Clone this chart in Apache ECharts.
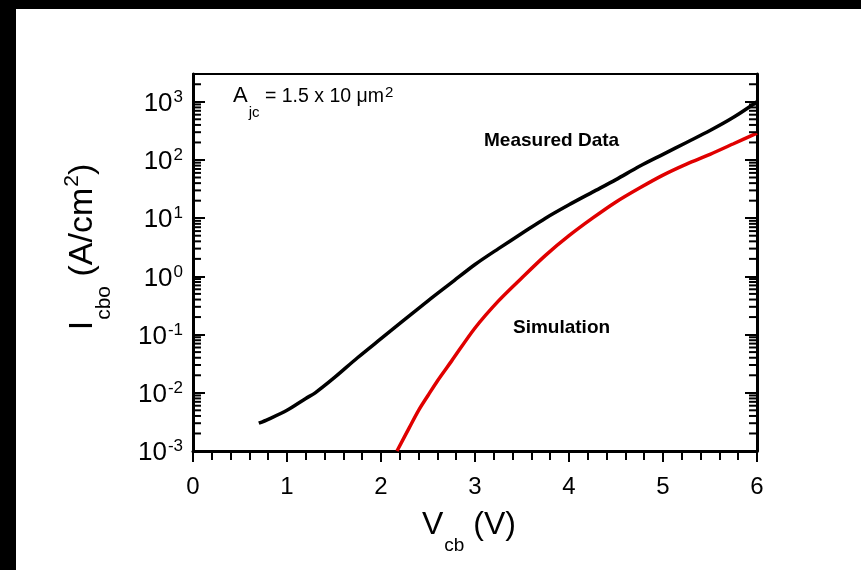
<!DOCTYPE html>
<html>
<head>
<meta charset="utf-8">
<script src="https://cdn.jsdelivr.net/npm/echarts@6/dist/echarts.min.js"></script>
<style>
html,body{margin:0;padding:0;background:#fff;}
#chart{width:861px;height:570px;}
</style>
</head>
<body>
<div id="chart"></div>
<script>
// ---- data ----
const measuredV = [0.7, 0.8, 1.0, 1.2, 1.3, 1.5, 1.75, 2.0, 2.25, 2.5, 2.75, 3.0, 3.25, 3.5, 3.75, 4.0, 4.25, 4.5, 4.75, 5.0, 5.25, 5.5, 5.75, 6.0];
const measuredI = [3e-3, 3.5e-3, 5e-3, 8e-3, 1e-2, 1.8e-2, 4e-2, 8.5e-2, 0.18, 0.38, 0.78, 1.6, 3, 5.5, 10, 17, 28, 46, 78, 125, 200, 320, 540, 1000];
const simV = [2.17, 2.3, 2.4, 2.5, 2.6, 2.75, 3.0, 3.25, 3.5, 3.75, 4.0, 4.25, 4.5, 4.75, 5.0, 5.25, 5.5, 5.75, 6.0];
const simI = [1e-3, 2.5e-3, 5e-3, 9e-3, 1.6e-2, 3.5e-2, 0.13, 0.38, 0.95, 2.3, 5, 10, 19, 33, 55, 85, 125, 190, 290];
const xTicks = [0, 1, 2, 3, 4, 5, 6];
const yMin = 1e-3, yMax = 3000;
const yMinorMultipliers = [2, 3, 4, 5, 6, 7, 8, 9];
const yDecades = [-3, -2, -1, 0, 1, 2, 3];

const minorTickValues = [];
yDecades.forEach(d => yMinorMultipliers.forEach(m => {
  const v = m * Math.pow(10, d);
  if (v < yMax) minorTickValues.push(v);
}));

const FONT = 'Liberation Sans, Arial, sans-serif';
const chart = echarts.init(document.getElementById('chart'), null, {renderer: 'canvas'});

function pairs(xs, ys){ return xs.map((x, i) => [x, ys[i]]); }

const option = {
  animation: false,
  backgroundColor: '#fff',
  grid: {left: 193, right: 104, top: 74, bottom: 119},
  graphic: [
    {type: 'rect', left: 0, top: 0, shape: {width: 861, height: 9}, style: {fill: '#000'}, z: 100},
    {type: 'rect', left: 0, top: 0, shape: {width: 16, height: 570}, style: {fill: '#000'}, z: 100},
    {type: 'text', x: 233, y: 85, z: 50, style: {
      text: '{a|A}{sub|jc}{r| = 1.5 x 10 \u03bcm}{sup|2}',
      verticalAlign: 'top', align: 'left',
      rich: {
        a: {fontSize: 22, lineHeight: 22, fontFamily: FONT, fill: '#000', verticalAlign: 'top'},
        r: {fontSize: 19.5, lineHeight: 20, fontFamily: FONT, fill: '#000', verticalAlign: 'top', padding: [2, 0, 0, 0]},
        sub: {fontSize: 15, lineHeight: 15, fontFamily: FONT, fill: '#000', verticalAlign: 'top', padding: [20, 0, 0, 1]},
        sup: {fontSize: 15, lineHeight: 15, fontFamily: FONT, fill: '#000', verticalAlign: 'top', padding: [0, 0, 0, 1]}
      }
    }},
    {type: 'text', left: 484, top: 131, z: 50, style: {text: 'Measured Data', font: 'bold 19px ' + FONT, fill: '#000'}},
    {type: 'text', left: 513, top: 318, z: 50, style: {text: 'Simulation', font: 'bold 19px ' + FONT, fill: '#000'}},
    // y-axis title, rotated to read bottom-to-top
    {type: 'text', x: 60, y: 247, rotation: Math.PI / 2, z: 50, style: {
      text: '{i|I}{sub|cbo}{i| (A/cm}{sup|2}{i|)}',
      align: 'center', verticalAlign: 'top',
      rich: {
        i: {fontSize: 34, lineHeight: 34, fontFamily: FONT, fill: '#000', verticalAlign: 'top', padding: [6, 0, 0, 0]},
        sub: {fontSize: 21, lineHeight: 21, fontFamily: FONT, fill: '#000', verticalAlign: 'top', padding: [34, 0, 0, 1]},
        sup: {fontSize: 21, lineHeight: 21, fontFamily: FONT, fill: '#000', verticalAlign: 'top', padding: [2, 0, 0, 1]}
      }
    }}
  ],
  xAxis: [{
    type: 'value', min: 0, max: 6, interval: 1, position: 'bottom',
    name: '{v|V}{sub|cb}{v| (V)}', nameLocation: 'middle', nameGap: 58,
    nameTextStyle: {
      padding: [0, 12, 0, 0],
      rich: {
        v: {fontSize: 32, lineHeight: 32, fontFamily: FONT, color: '#000', verticalAlign: 'top'},
        sub: {fontSize: 19, lineHeight: 19, fontFamily: FONT, color: '#000', verticalAlign: 'top', padding: [27, 0, 0, 1]}
      }
    },
    axisLine: {show: true, onZero: false, lineStyle: {color: '#000', width: 3}},
    axisTick: {show: true, inside: false, length: 11, lineStyle: {color: '#000', width: 2}},
    minorTick: {show: true, splitNumber: 5, length: 9, lineStyle: {color: '#000', width: 2}},
    axisLabel: {fontSize: 24, fontFamily: FONT, color: '#000', margin: 24},
    splitLine: {show: false}, minorSplitLine: {show: false}
  }, {
    type: 'value', min: 0, max: 6, interval: 1, position: 'top',
    axisLine: {show: true, onZero: false, lineStyle: {color: '#000', width: 2}},
    axisTick: {show: false}, axisLabel: {show: false}, splitLine: {show: false}
  }],
  yAxis: [{
    type: 'log', logBase: 10, min: yMin, max: yMax, position: 'left',
    axisLine: {show: true, onZero: false, lineStyle: {color: '#000', width: 3}},
    axisTick: {show: true, inside: true, length: 12, lineStyle: {color: '#000', width: 2}},
    axisLabel: {
      margin: 10, color: '#000',
      formatter: function (v) {
        const e = Math.log10(v);
        const r = Math.round(e);
        if (Math.abs(e - r) > 1e-6) return '';
        return '{b|10}{s|' + r + '}';
      },
      rich: {
        b: {fontSize: 26, lineHeight: 26, fontFamily: FONT, color: '#000', verticalAlign: 'top', padding: [2, 0, 8, 0]},
        s: {fontSize: 17, lineHeight: 17, fontFamily: FONT, color: '#000', verticalAlign: 'top', padding: [0, 0, 0, 1]}
      }
    },
    splitLine: {show: false}
  }, {
    type: 'log', logBase: 10, min: yMin, max: yMax, position: 'right',
    axisLine: {show: true, onZero: false, lineStyle: {color: '#000', width: 3}},
    axisTick: {show: true, inside: true, length: 12, lineStyle: {color: '#000', width: 2}},
    axisLabel: {show: false}, splitLine: {show: false}
  }],
  series: [{
    name: 'Measured Data', type: 'line', xAxisIndex: 0, yAxisIndex: 0,
    data: pairs(measuredV, measuredI), smooth: 0.3, showSymbol: false,
    lineStyle: {color: '#000', width: 3.5}, z: 5
  }, {
    name: 'Simulation', type: 'line', xAxisIndex: 0, yAxisIndex: 0,
    data: pairs(simV, simI), smooth: 0.3, showSymbol: false,
    lineStyle: {color: '#e00000', width: 3.5}, z: 4
  }, {
    name: 'minor y ticks', type: 'custom', xAxisIndex: 0, yAxisIndex: 0,
    silent: true, clip: false, z: 10,
    data: minorTickValues.map(v => [0, v]),
    renderItem: function (params, api) {
      const yv = api.value(1);
      const pL = api.coord([0, yv]);
      const pR = api.coord([6, yv]);
      return {type: 'group', children: [
        {type: 'line', shape: {x1: pL[0], y1: pL[1], x2: pL[0] + 8, y2: pL[1]}, style: {stroke: '#000', lineWidth: 2}},
        {type: 'line', shape: {x1: pR[0] - 8, y1: pR[1], x2: pR[0], y2: pR[1]}, style: {stroke: '#000', lineWidth: 2}}
      ]};
    }
  }]
};
chart.setOption(option);
</script>
</body>
</html>
